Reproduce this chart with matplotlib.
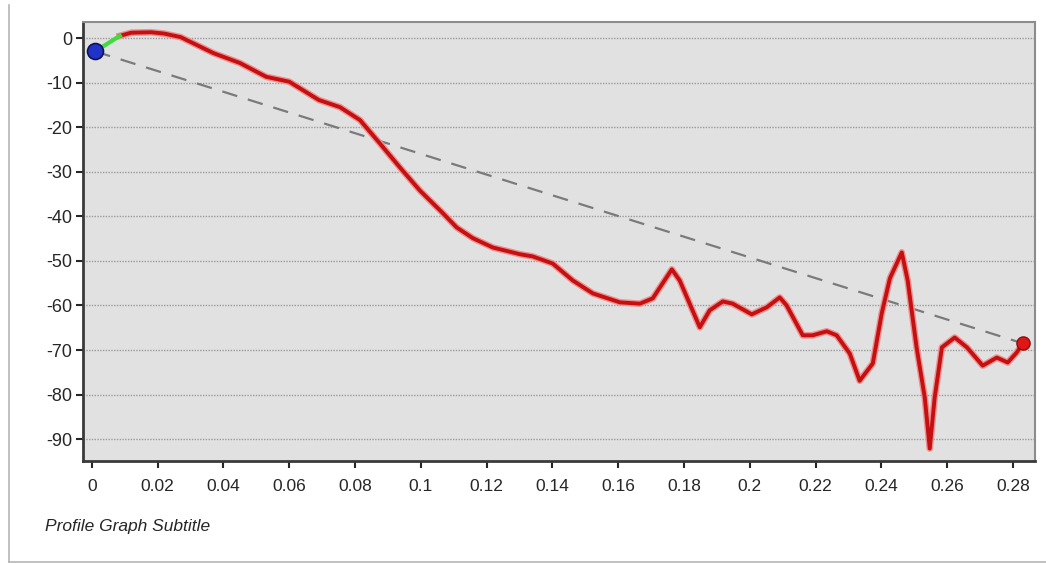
import matplotlib
matplotlib.use("Agg")
import matplotlib.pyplot as plt
import matplotlib.patheffects as pe
from matplotlib.lines import Line2D

plt.rcParams['font.family'] = ['Liberation Sans', 'DejaVu Sans']
plt.rcParams['axes.unicode_minus'] = False

# profile data (distance, elevation)
start_pt = (0.001, -3.0)
end_pt = (0.283, -68.5)
green_x = [0.001, 0.0085]
green_y = [-3.0, 0.5]
dist = [0.0085, 0.012, 0.018, 0.022, 0.027, 0.037, 0.045, 0.053, 0.060, 0.069,
        0.0754, 0.0815, 0.0875, 0.0936, 0.0997, 0.1067, 0.1109, 0.1158, 0.1219,
        0.1301, 0.1340, 0.1401, 0.1462, 0.1523, 0.1605, 0.1666, 0.1705, 0.1763,
        0.1787, 0.1848, 0.1878, 0.1918, 0.1948, 0.2006, 0.2052, 0.2091, 0.2112,
        0.2161, 0.2191, 0.2234, 0.2264, 0.2304, 0.2334, 0.2374, 0.2401, 0.2426,
        0.2462, 0.2480, 0.2507, 0.2532, 0.2547, 0.2562, 0.2584, 0.2623, 0.2660,
        0.2708, 0.2751, 0.2784, 0.2811, 0.2830]
elev = [0.5, 1.2, 1.3, 1.0, 0.2, -3.4, -5.6, -8.7, -9.8, -13.9,
        -15.5, -18.4, -23.6, -29.0, -34.2, -39.3, -42.5, -44.9, -47.0,
        -48.5, -49.0, -50.6, -54.4, -57.3, -59.3, -59.6, -58.4, -51.9,
        -54.4, -64.9, -61.1, -59.1, -59.6, -62.0, -60.4, -58.2, -60.0,
        -66.7, -66.7, -65.8, -66.7, -70.8, -76.9, -73.0, -61.8, -53.9,
        -48.1, -54.4, -69.4, -80.7, -92.1, -80.7, -69.4, -67.2, -69.4,
        -73.5, -71.7, -72.8, -70.6, -68.5]

xticks = [0, 0.02, 0.04, 0.06, 0.08, 0.1, 0.12, 0.14, 0.16, 0.18, 0.2, 0.22, 0.24, 0.26, 0.28]
xtick_labels = ['0', '0.02', '0.04', '0.06', '0.08', '0.1', '0.12', '0.14', '0.16', '0.18',
                '0.2', '0.22', '0.24', '0.26', '0.28']
yticks = [0, -10, -20, -30, -40, -50, -60, -70, -80, -90]
ytick_labels = ['0', '-10', '-20', '-30', '-40', '-50', '-60', '-70', '-80', '-90']
subtitle = 'Profile Graph Subtitle'

fig = plt.figure(figsize=(10.46, 5.63), dpi=100)
fig.patch.set_facecolor('white')
ax = fig.add_axes([83/1046, 1-461/563, (1035-83)/1046, (461-22)/563])
ax.set_facecolor('#e1e1e1')

ax.set_xlim(-0.0027, 0.2867)
ax.set_ylim(-94.9, 3.6)

ax.set_yticks(yticks)
ax.set_yticklabels(ytick_labels)
ax.set_xticks(xticks)
ax.set_xticklabels(xtick_labels)
ax.tick_params(axis='both', labelsize=12.5, colors='#262626', length=5, width=1.5)
ax.tick_params(axis='x', pad=8)
ax.tick_params(axis='y', pad=3, labelsize=13)

for y in yticks:
    ax.axhline(y, color='#9a9a9a', lw=1.0, ls=(0, (1, 1)), zorder=1)

for s in ['left', 'bottom']:
    ax.spines[s].set_color('#3a3a3a')
    ax.spines[s].set_linewidth(2)
for s in ['top', 'right']:
    ax.spines[s].set_color('#8c8c8c')
    ax.spines[s].set_linewidth(1.5)

# straight line of sight
ax.plot([start_pt[0], end_pt[0]], [start_pt[1], end_pt[1]], color='#7a7a7a', lw=1.6,
        dashes=(7, 5), zorder=2)

# profile
ax.plot(dist, elev, color='#c41010', lw=2.8, zorder=3, solid_joinstyle='round',
        path_effects=[pe.Stroke(linewidth=4.8, foreground='#f09090'), pe.Normal()])
ax.plot(green_x, green_y, color='#3fdc3f', lw=3, zorder=3)

ax.plot([start_pt[0]], [start_pt[1]], 'o', ms=11.5, color='#1f33c8', mec='#10105a', mew=1.2, zorder=5)
ax.plot([end_pt[0]], [end_pt[1]], 'o', ms=9.5, color='#e01515', mec='#8a1010', mew=1.0, zorder=5)

fig.text(45/1046, 1-527/563, subtitle, fontsize=12.5, style='italic', color='#262626',
         va='center', ha='left')

fig.add_artist(Line2D([9/1046, 9/1046], [0, 1-5/563], color='#b5b5b5', lw=1.2))
fig.add_artist(Line2D([9/1046, 1], [1/563, 1/563], color='#b5b5b5', lw=1.2))

fig.savefig('out.png', dpi=100)
